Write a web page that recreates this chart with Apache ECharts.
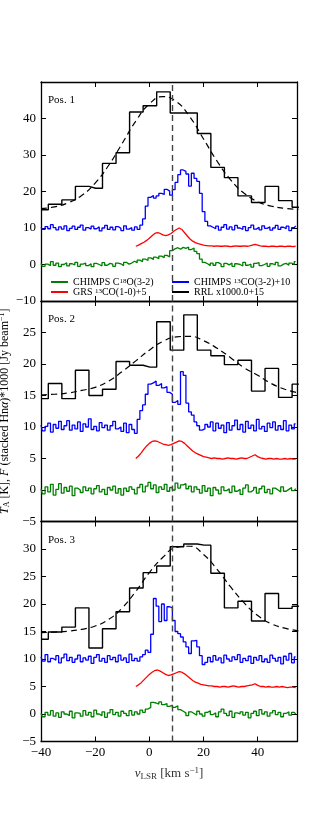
<!DOCTYPE html>
<html lang="en">
<head>
<meta charset="UTF-8">
<title>RRL and CO spectra</title>
<script src="https://cdn.jsdelivr.net/npm/echarts@6/dist/echarts.min.js"></script>
<style>
  html, body { margin: 0; padding: 0; background: #fff; }
  #chart { width: 329px; height: 824px; }
</style>
</head>
<body>
<div id="chart"></div>
<script>
  // channel grids (1 km/s spectra, 5 km/s RRL bins, fit samples)
  const chanVel = [];
  for (let v = -40; v <= 54; v++) chanVel.push(v);
  const grsVel = [];
  for (let v = -5; v <= 54; v++) grsVel.push(v);
  const rrlVel = [-39.8, -34.8, -29.8, -24.8, -19.8, -14.8, -9.8, -4.8, 0.2, 5.2,
                  10.2, 15.2, 20.2, 25.2, 30.2, 35.2, 40.2, 45.2, 50.2, 55.2];
  const fitVel = [-40, -35, -30, -25, -20, -15, -10, -5, 0, 5,
                  10, 15, 20, 25, 30, 35, 40, 45, 50, 55];
  const vSys = 8.6;
  const posNames = ['Pos. 1', 'Pos. 2', 'Pos. 3'];

  // ---- Pos. 1 ----
  const c18o1 = [0.3, -0.5, 0.1, -0.3, 0.8, -0.2, 0.4, -0.6, 0.0, 0.5, -0.4, 0.2, -0.1, 0.6, -0.5, 0.1, 0.4, -0.3, 0.2, -0.6,
    0.3, 0.0, -0.4, 0.5, -0.2, 0.3, 0.1, -0.5, 0.4, 0.2, -0.3, 0.6, 0.1, 0.4, 0.9, 0.5,
    1.2, 0.8, 1.5, 1.1, 1.8, 1.4, 2.0, 1.6, 2.3, 1.9, 2.5, 2.1, 3.8, 4.3, 4.6, 4.2, 4.7, 4.4, 4.8, 4.1, 4.5, 3.6, 3.0, 1.5, 0.6, 0.2, -0.3, 0.4,
    -0.2, 0.5, 0.1, -0.6, 0.3, -0.1, 0.4, -0.5, 0.2, 0.0, -0.4, 0.6, -0.2, 0.1, -0.7, 0.3, 0.5, -0.3, 0.0, 0.4,
    -0.5, 0.2, -0.1, 0.6, -0.4, 0.1, 0.3, -0.2, 0.4, 0.0, 0.8];
  const co13_1 = [10.2, 9.6, 10.4, 9.8, 10.9, 10.1, 9.5, 10.3, 9.7, 10.6, 9.3, 9.9, 10.5, 9.6, 10.2, 10.8, 9.4, 10.1, 9.7, 10.5,
    9.8, 10.3, 9.2, 10.0, 10.7, 9.6, 10.2, 9.5, 10.4, 9.9, 9.3, 10.6, 9.7, 10.1, 9.4, 10.3,
    9.6, 10.8, 12.5, 16.0, 18.4, 18.9, 18.2, 18.8, 19.5, 19.2, 20.6, 20.1, 19.0, 20.5, 22.5, 24.6, 25.9, 25.5, 24.8, 21.5, 25.0, 23.6, 22.8, 19.5, 14.5, 11.8, 10.6, 10.2,
    9.8, 10.5, 9.4, 10.2, 10.9, 9.7, 10.3, 9.5, 10.7, 10.0, 9.6, 10.4, 9.3, 10.1, 10.8, 9.7, 10.2, 9.5, 10.6, 9.9,
    10.3, 9.4, 10.0, 10.7, 9.6, 10.2, 9.8, 10.5, 9.3, 10.1, 10.6];
  const grs1 = [5.0, 5.3, 5.7, 6.1, 6.6, 7.2, 7.9, 8.5, 8.7, 8.5, 8.1, 7.9, 8.1, 8.5, 9.1, 9.6, 10.0, 9.6, 8.7, 7.8,
    7.0, 6.4, 6.0, 5.7, 5.5, 5.3, 5.2, 5.1,
    5.1, 5.0, 5.1, 5.0, 5.0, 5.1, 5.0, 4.9, 5.0, 5.1, 5.0, 5.0, 5.1, 5.0, 5.1, 5.3, 5.5, 5.3, 5.1, 5.0,
    5.0, 4.9, 5.0, 5.0, 4.9, 5.0, 5.0, 4.9, 5.0, 5.0, 4.9, 5.0];
  const rrl1 = [15.0, 16.5, 17.7, 21.4, 20.9, 27.7, 30.6, 41.8, 43.5, 47.3, 41.5, 41.5, 35.9, 26.6, 23.8, 18.8, 17.0, 21.4, 17.5, 15.7];
  const fit1 = [15.3, 15.8, 16.9, 18.9, 22.3, 27.2, 33.2, 39.3, 44.0, 46.0, 44.6, 40.4, 34.4, 28.3, 23.2, 19.5, 17.2, 16.0, 15.4, 15.1];

  // ---- Pos. 2 ----
  const c18o2 = [0.2, -0.6, 0.5, -0.3, 0.9, -0.8, 0.1, 1.0, -0.5, 0.4, -0.2, 0.6, -0.9, 0.3, 0.0, -0.4, 0.5, -0.1, 0.3, -0.6,
    0.2, 0.7, -0.3, 0.1, -0.7, 0.4, 0.0, 0.6, -0.5, 0.2, -0.8, 0.3, -0.2, 0.5, 0.1, -0.6, 0.4, 0.9, -0.3, 0.6,
    1.2, 0.2, 0.8, -0.4, 0.5, 0.1, 0.9, -0.2, 0.4, 0.0, 1.1, 0.3, 0.8, 1.0, 0.2, 0.6, -0.3, 0.5, 0.1, -0.5,
    0.7, -0.2, 0.3, -0.9, 0.4, 0.0, -0.6, 0.5, -0.1, 0.2, -0.4, 0.6, -0.2, 0.1, -0.7, 0.3, 0.8, -0.3, 0.0, 0.4,
    -0.5, 0.2, 0.6, -0.4, 0.1, -0.6, 0.3, 0.0, -0.3, 0.5, -0.2, 0.1, 0.4, -0.1, 0.2];
  const co13_2 = [10.3, 9.4, 10.1, 10.6, 9.2, 10.4, 9.8, 10.9, 9.6, 10.2, 11.0, 9.5, 10.3, 9.7, 10.8, 9.3, 10.5, 10.0, 11.3, 9.6,
    10.1, 9.4, 10.7, 9.9, 10.3, 9.5, 10.2, 10.9, 9.7, 10.0, 9.3, 10.6, 9.1, 10.4, 9.6,
    9.0, 11.2, 12.6, 13.5, 15.2, 16.8, 17.0, 17.3, 16.6, 16.9, 16.2, 16.4, 15.5, 15.2, 13.9, 14.2, 13.6, 18.8, 18.2, 13.8,
    12.4, 11.9, 10.8, 10.2, 9.5, 9.7, 10.4, 10.0,
    10.8, 9.4, 10.6, 9.8, 10.3, 9.1, 10.7, 9.5, 10.2, 11.1, 9.6, 10.4, 9.2, 10.9, 9.8, 10.3, 9.4, 11.2, 9.7, 10.1,
    9.3, 10.6, 9.9, 10.8, 9.5, 10.2, 9.6, 11.0, 9.4, 10.3, 9.7, 10.5];
  const grs2 = [5.0, 5.4, 5.9, 6.5, 7.0, 7.4, 7.7, 7.8, 7.7, 7.5, 7.3, 7.2, 7.1, 7.2, 7.4, 7.6, 7.8, 7.7, 7.4, 7.0,
    6.6, 6.2, 5.9, 5.7, 5.5, 5.3, 5.2, 5.1,
    5.0, 5.1, 5.0, 5.0, 4.9, 5.0, 5.1, 5.0, 5.0, 4.9, 5.0, 5.1, 5.0, 5.0, 5.2, 5.4, 5.6, 5.3, 5.1, 5.0,
    4.9, 5.0, 5.0, 4.9, 5.0, 4.9, 4.9, 5.0, 4.9, 5.0, 4.9, 4.9];
  const rrl2 = [14.5, 16.9, 14.5, 19.0, 15.0, 16.0, 20.4, 19.8, 19.5, 26.7, 22.2, 27.8, 22.2, 21.3, 19.9, 20.6, 15.7, 19.3, 14.7, 16.8];
  const fit2 = [15.1, 15.2, 15.4, 15.8, 16.3, 17.3, 18.8, 20.5, 22.2, 23.6, 24.3, 24.4, 23.7, 22.5, 21.0, 19.4, 18.2, 16.9, 16.0, 15.4];

  // ---- Pos. 3 ----
  const c18o3 = [0.1, -0.5, 0.3, -0.2, 0.6, -0.4, 0.2, -0.6, 0.4, 0.0, -0.3, 0.5, -0.7, 0.2, 0.1, -0.4, 0.6, -0.2, 0.3, -0.5,
    0.7, 0.0, -0.3, 0.4, -0.6, 0.2, 0.8, -0.1, 0.3, -0.4, 0.5, 0.1, -0.3, 0.6, -0.2, 0.4, 0.0, 0.7, 0.3, 0.9,
    1.2, 2.1, 2.0, 1.8, 2.2, 1.7, 1.9, 1.4, 1.6, 1.2, 1.5, 0.8, 0.5,
    0.2, -0.3, 0.4, 0.1, -0.2, 0.5, 0.0, -0.4, 0.3, 0.6, -0.1, 0.2, -0.5, 0.4, 0.9, 0.1, -0.3, 0.5, -0.6, 0.2,
    0.0, 0.4, -0.2, 0.3, -0.7, 0.1, 0.5, -0.3, 0.8, 0.0, 0.4, -0.4, 0.2, 0.6, -0.1, 0.3, -0.5, 0.1, 0.4, -0.2, 0.3, 0.0];
  const co13_3 = [10.4, 9.6, 10.8, 9.5, 10.1, 9.8, 10.6, 9.3, 10.2, 10.9, 9.7, 10.3, 9.4, 10.0, 10.7, 9.5, 10.2, 9.8, 10.5, 9.2,
    10.3, 10.8, 9.6, 10.1, 9.4, 10.6, 9.9, 10.3, 9.5, 10.7, 9.8, 10.2, 9.4, 10.9, 9.7, 10.1, 9.6, 10.4,
    10.8, 11.6, 11.2, 14.5, 21.0, 19.6, 16.8, 20.0, 17.0, 19.5, 19.3, 17.0, 15.0, 14.6, 14.0, 13.1, 12.2, 11.0, 13.3, 13.4,
    12.2, 10.6, 9.0, 9.4, 10.3,
    9.5, 10.6, 9.8, 10.2, 9.3, 10.7, 10.0, 9.6, 10.4, 9.9, 10.8, 9.4, 10.1, 9.7, 10.5, 9.2, 10.3, 9.8, 10.6, 9.5,
    10.0, 9.4, 10.7, 10.1, 9.6, 10.3, 9.1, 10.5, 9.8, 11.0, 9.3, 10.4];
  const grs3 = [5.0, 5.3, 5.7, 6.2, 6.7, 7.2, 7.6, 7.9, 8.0, 7.8, 7.5, 7.2, 7.0, 7.1, 7.3, 7.5, 7.7, 7.6, 7.3, 6.9,
    6.5, 6.1, 5.8, 5.6, 5.4, 5.3, 5.2, 5.1,
    5.1, 5.0, 5.0, 4.9, 5.0, 5.0, 4.9, 5.0, 5.1, 5.0, 4.9, 5.0, 5.0, 5.1, 5.2, 5.3, 5.5, 5.2, 5.0, 5.0,
    4.9, 5.0, 4.9, 4.9, 5.0, 4.9, 5.0, 4.9, 4.8, 4.9, 4.9, 4.8];
  const rrl3 = [13.6, 14.9, 15.8, 19.3, 12.0, 15.5, 18.6, 22.9, 25.7, 26.9, 30.4, 30.9, 30.7, 25.6, 19.3, 20.5, 16.9, 21.9, 19.2, 19.6];
  const fit3 = [14.8, 14.9, 15.05, 15.4, 16.0, 17.2, 19.3, 22.3, 25.7, 28.5, 30.3, 30.5, 29.0, 26.3, 23.1, 20.2, 17.9, 16.4, 15.6, 15.1];

  const c18oSets = [c18o1, c18o2, c18o3];
  const co13Sets = [co13_1, co13_2, co13_3];
  const grsSets = [grs1, grs2, grs3];
  const rrlSets = [rrl1, rrl2, rrl3];
  const fitSets = [fit1, fit2, fit3];

  const yMins = [-10, -5, -5];
  const yMaxs = [50, 30, 35];
  const yIntervals = [10, 5, 5];

  const NAME_C18O = 'CHIMPS C18O(3-2)';
  const NAME_GRS = 'GRS 13CO(1-0)+5';
  const NAME_CO13 = 'CHIMPS 13CO(3-2)+10';
  const NAME_RRL = 'RRL x1000.0+15';

  const FONT = 'Liberation Serif';
  const GREEN = '#008000', RED = '#ff0000', BLUE = '#0000ff', BLACK = '#000000';

  const zip = (xs, ys) => ys.map((y, i) => [xs[i], y]);
  const minus = v => (v < 0 ? '\u2212' + (-v) : String(v));

  const gridBox = [
    { left: 41, top: 82, width: 256, height: 219, outerBoundsMode: 'none' },
    { left: 41, top: 301, width: 256, height: 220.5, outerBoundsMode: 'none' },
    { left: 41, top: 521.5, width: 256, height: 220, outerBoundsMode: 'none' }
  ];

  const axisLine = { show: true, onZero: false, lineStyle: { color: BLACK, width: 1.3 } };
  const axisTick = { show: true, inside: true, length: 5, lineStyle: { color: BLACK, width: 1 } };

  let xAxes = [], yAxes = [], series = [], titles = [];
  for (let g = 0; g < 3; g++) {
    xAxes.push({
      type: 'value', gridIndex: g, position: 'bottom', min: -40, max: 54.5, interval: 20,
      axisLine: axisLine, axisTick: axisTick, splitLine: { show: false },
      axisLabel: {
        show: g === 2, showMaxLabel: false, margin: 5, color: BLACK,
        fontFamily: FONT, fontSize: 13, formatter: minus
      },
      name: g === 2 ? '{i|v}{sub|LSR} [km s{sup|\u22121}]' : '',
      nameLocation: 'middle', nameGap: 25,
      nameTextStyle: {
        fontFamily: FONT, fontSize: 13, color: '#333',
        rich: {
          i: { fontFamily: FONT, fontStyle: 'italic', fontSize: 13, color: '#333' },
          sub: { fontFamily: FONT, fontSize: 9, color: '#333', padding: [6, 0, 0, 0] },
          sup: { fontFamily: FONT, fontSize: 9, color: '#333', padding: [0, 0, 6, 0] }
        }
      }
    });
    xAxes.push({
      type: 'value', gridIndex: g, position: 'top', min: -40, max: 54.5, interval: 20,
      axisLine: axisLine, axisTick: axisTick, splitLine: { show: false },
      axisLabel: { show: false }
    });
    yAxes.push({
      type: 'value', gridIndex: g, position: 'left', min: yMins[g], max: yMaxs[g], interval: yIntervals[g],
      axisLine: axisLine, axisTick: axisTick, splitLine: { show: false },
      axisLabel: {
        showMaxLabel: false, margin: 5, color: BLACK,
        fontFamily: FONT, fontSize: 13, formatter: minus
      },
      name: g === 1 ? '{i|T}{sub|A} [K], {i|F} (stacked Hn{i|\u03b1})*1000 [Jy beam{sup|\u22121}]' : '',
      nameLocation: 'middle', nameGap: 24,
      nameTextStyle: {
        fontFamily: FONT, fontSize: 12, color: BLACK,
        rich: {
          i: { fontFamily: FONT, fontStyle: 'italic', fontSize: 12, color: BLACK },
          sub: { fontFamily: FONT, fontSize: 8, color: BLACK, padding: [5, 0, 0, 0] },
          sup: { fontFamily: FONT, fontSize: 8, color: BLACK, padding: [0, 0, 5, 0] }
        }
      }
    });
    yAxes.push({
      type: 'value', gridIndex: g, position: 'right', min: yMins[g], max: yMaxs[g], interval: yIntervals[g],
      axisLine: axisLine, axisTick: axisTick, splitLine: { show: false },
      axisLabel: { show: false }
    });

    titles.push({
      text: posNames[g], left: 48, top: gridBox[g].top + 13, padding: 0,
      textStyle: { fontFamily: FONT, fontSize: 11, fontWeight: 'normal', color: BLACK }
    });

    const ax = { xAxisIndex: g * 2, yAxisIndex: g * 2 };
    series.push(Object.assign({
      name: NAME_C18O, type: 'line', step: 'middle', showSymbol: false,
      data: zip(chanVel, c18oSets[g]), lineStyle: { color: GREEN, width: 1.3 }, itemStyle: { color: GREEN }
    }, ax));
    series.push(Object.assign({
      name: NAME_GRS, type: 'line', showSymbol: false,
      data: zip(grsVel, grsSets[g]), lineStyle: { color: RED, width: 1.3 }, itemStyle: { color: RED }
    }, ax));
    series.push(Object.assign({
      name: NAME_CO13, type: 'line', step: 'middle', showSymbol: false,
      data: zip(chanVel, co13Sets[g]), lineStyle: { color: BLUE, width: 1.3 }, itemStyle: { color: BLUE }
    }, ax));
    series.push(Object.assign({
      name: NAME_RRL, type: 'line', step: 'middle', showSymbol: false,
      data: zip(rrlVel, rrlSets[g]), lineStyle: { color: BLACK, width: 1.4 }, itemStyle: { color: BLACK },
      markLine: {
        silent: true, symbol: ['none', 'none'], label: { show: false },
        lineStyle: { color: '#444', type: [6, 4], width: 1.4 },
        data: [{ xAxis: vSys }]
      }
    }, ax));
    series.push(Object.assign({
      name: 'fit', type: 'line', smooth: true, showSymbol: false,
      data: zip(fitVel, fitSets[g]), lineStyle: { color: BLACK, width: 1.2, type: [6, 4] }
    }, ax));
  }

  const legendText = {
    fontFamily: FONT, fontSize: 10, color: BLACK, lineHeight: 9,
    rich: { sup: { fontFamily: FONT, fontSize: 7, color: BLACK, verticalAlign: 'top', lineHeight: 9 } }
  };
  function richName(name) {
    if (name === NAME_C18O) return 'CHIMPS C{sup|18}O(3-2)';
    if (name === NAME_GRS) return 'GRS {sup|13}CO(1-0)+5';
    if (name === NAME_CO13) return 'CHIMPS {sup|13}CO(3-2)+10';
    return name;
  }

  const chart = echarts.init(document.getElementById('chart'), null, { renderer: 'canvas' });
  chart.setOption({
    animation: false,
    backgroundColor: '#fff',
    title: titles,
    grid: gridBox,
    xAxis: xAxes,
    yAxis: yAxes,
    legend: [
      {
        data: [NAME_C18O, NAME_GRS], orient: 'vertical', left: 51, top: 277,
        itemGap: 0, itemWidth: 17, itemHeight: 2, icon: 'rect',
        formatter: richName, textStyle: legendText, padding: 0, selectedMode: false
      },
      {
        data: [NAME_CO13, NAME_RRL], orient: 'vertical', left: 172, top: 277,
        itemGap: 0, itemWidth: 17, itemHeight: 2, icon: 'rect',
        formatter: richName, textStyle: legendText, padding: 0, selectedMode: false
      }
    ],
    series: series
  });
</script>
</body>
</html>
